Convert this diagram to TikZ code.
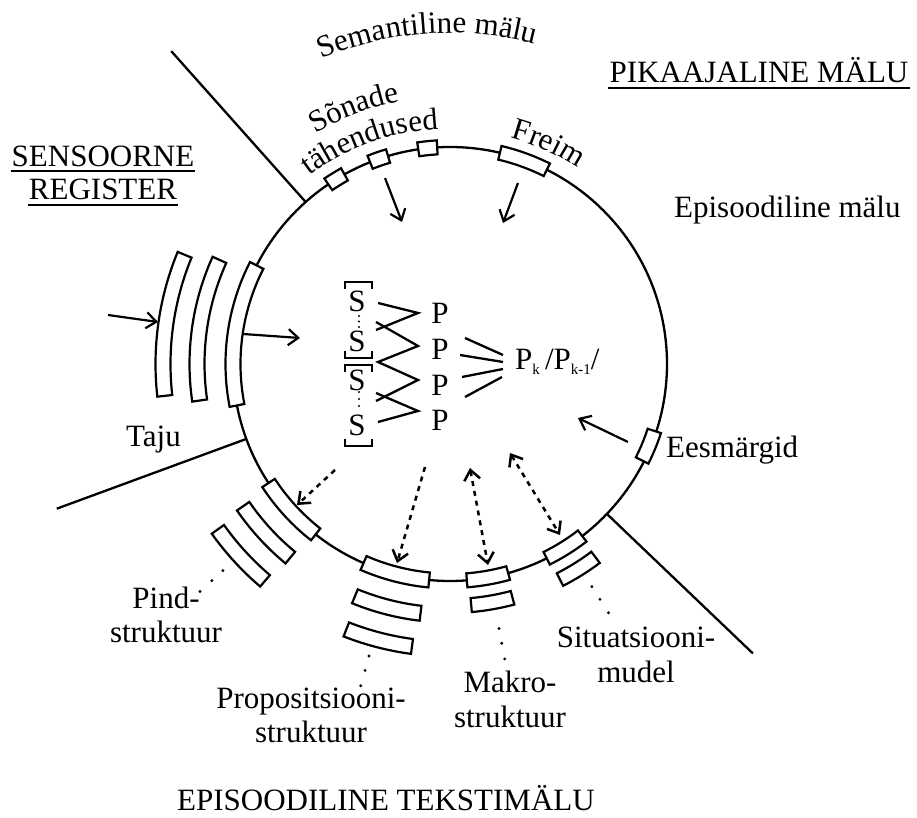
\documentclass[tikz,border=0pt]{standalone}
\usepackage{fontspec}
\setmainfont{Liberation Serif}
\usetikzlibrary{arrows.meta,decorations.text,calc}

\newcommand\lblfont{\fontsize{31}{34}\selectfont}
\newcommand\sbs[1]{\raisebox{-5pt}{\fontsize{15}{15}\selectfont #1}}
% box bent along the ring: angle, radius, arc length, width
\newcommand\segbox[4]{%
  \pgfmathsetmacro\hA{#3/(2*#2)*180/pi}%
  \pgfmathsetmacro\rI{#2-#4/2}%
  \pgfmathsetmacro\rO{#2+#4/2}%
  \draw[seg] (#1-\hA:\rI) arc[start angle=#1-\hA, end angle=#1+\hA, radius=\rI]
    -- (#1+\hA:\rO) arc[start angle=#1+\hA, end angle=#1-\hA, radius=\rO] -- cycle;}

\begin{document}
\begin{tikzpicture}[x=1pt, y=1pt, font=\lblfont, line width=2.3pt,
      seg/.style={draw, fill=white, line width=2.2pt},
      arr/.style={-{Straight Barb[length=10pt,width=16pt]}, line width=2.2pt},
      darr/.style={arr, line width=2.5pt, dash pattern=on 5pt off 5pt},
      ddarr/.style={darr, {Straight Barb[length=10pt,width=16pt]}-{Straight Barb[length=10pt,width=16pt]}},
      lbl/.style={inner sep=0pt, anchor=base},
      uline/.style={line width=1.8pt},
      curved/.style={decorate, decoration={text along path, text align=center, text={|\lblfont|#1}}},
    ]
    \useasboundingbox (-450,-454) rectangle (467,364);

    % --- ring and the three borders ---
    \draw (0,0) circle[radius=217];
    \foreach \a in {131.7,200.2,-43.7}
      \draw (\a:217) -- (\a:419);

    % --- boxes on the ring ---
    \foreach \a in {121.6,109.1,95.9} {\segbox{\a}{217}{19}{14}}
    \segbox{70.1}{217}{50}{14}
    \segbox{-22.4}{215}{32}{14}
    \foreach \r in {217,253,287} {\segbox{172}{\r}{144}{15}}
    \foreach \r in {217,251,285} {\segbox{222.5}{\r}{70}{15}}
    \foreach \r in {217,251,285} {\segbox{255.5}{\r}{68}{15}}
    \foreach \r in {217,242} {\segbox{280}{\r}{42}{14}}
    \foreach \r in {217,242} {\segbox{302}{\r}{42}{14}}

    % --- dots leading out to the labels ---
    \foreach \r in {307,322,338} \fill (222.3:\r) circle[radius=1.6];
    \foreach \r in {303,318,334} \fill (254.5:\r) circle[radius=1.6];
    \foreach \r in {269,284,300} \fill (280.5:\r) circle[radius=1.6];
    \foreach \r in {264,279,295} \fill (302.5:\r) circle[radius=1.6];

    % --- curved labels ---
    \path[curved={Semantiline mälu}] (139:331) arc[start angle=139, end angle=49, radius=331];
    \path[curved={Sõnade}] (150:267) arc[start angle=150, end angle=71, radius=267];
    \path[curved={tähendused}] (150:235) arc[start angle=150, end angle=69.6, radius=235];
    \path[curved={Freim}] (105:234) arc[start angle=105, end angle=26.8, radius=234];

    % --- labels ---
    \node[lbl] (sens) at (-347,197) {SENSOORNE};
    \node[lbl] (reg) at (-347,164) {REGISTER};
    \node[lbl] (pika) at (309,281) {PIKAAJALINE MÄLU};
    \draw[uline] ($(sens.base west)+(0,-4)$) -- ($(sens.base east)+(0,-4)$);
    \draw[uline] ($(reg.base west)+(0,-5)$) -- ($(reg.base east)+(0,-5)$);
    \draw[uline] ($(pika.base west)+(0,-5)$) -- ($(pika.base east)+(0,-5)$);
    \node[lbl, anchor=base west] (epis) at (223,146) {Episoodiline mälu};
    \node[lbl, anchor=base west] (taju) at (-325,-83) {Taju};
    \node[lbl, anchor=base west] (eesm) at (215,-94) {Eesmärgid};
    \node[lbl] (pind-a) at (-284,-244) {Pind-};
    \node[lbl] (pind-b) at (-284,-278) {struktuur};
    \node[lbl] (prop-a) at (-139,-344) {Propositsiooni-};
    \node[lbl] (prop-b) at (-139,-378) {struktuur};
    \node[lbl] (makro-a) at (60,-328) {Makro-};
    \node[lbl] (makro-b) at (60,-363) {struktuur};
    \node[lbl] (situ-a) at (186,-283) {Situatsiooni-};
    \node[lbl] (situ-b) at (186,-318) {mudel};
    \node[lbl] (tekst) at (-64,-446) {EPISOODILINE TEKSTIMÄLU};

    % --- centre: S groups, P's and the result ---
    \foreach \n/\y in {1/63,2/23,3/-16,4/-61}
      \node[inner sep=0pt] (s\n) at (-93,\y) {S};
    \foreach \y in {48,42.5,37,-28,-35,-42}
      \fill (-91,\y) circle[radius=1.2];
    \foreach \y in {82,-1} {\draw[line width=2pt] (-105,\y-7) -- (-105,\y) -- (-78,\y) -- (-78,\y-7);}
    \foreach \y in {6,-82} {\draw[line width=2pt] (-105,\y+7) -- (-105,\y) -- (-78,\y) -- (-78,\y+7);}
    \foreach \n/\y in {1/51,2/15,3/-21,4/-56}
      \node[inner sep=0pt] (p\n) at (-10,\y) {P};
    \node[lbl, anchor=base west] (pk) at (64,-6) {P\sbs{k}\,/P\sbs{k-1}/};

    \draw (-72,61) -- (-32,51) -- (-74,34);
    \draw (-74,42) -- (-32,18) -- (-72,2) -- (-32,-16) -- (-74,-37);
    \draw (-74,-29) -- (-32,-47) -- (-72,-58);
    \draw (15,26) -- (53,9);
    \draw (10,9) -- (53,2);
    \draw (12,-13) -- (53,-5);
    \draw (15,-33) -- (52,-13);

    % --- arrows ---
    \coordinate (in-a) at (-342,49);   \coordinate (in-b) at (-292,42);
    \coordinate (taju-a) at (-207,30); \coordinate (taju-b) at (-150,26);
    \coordinate (son-a) at (-65,186);  \coordinate (son-b) at (-48,142);
    \coordinate (fr-a) at (68,181);    \coordinate (fr-b) at (53,141);
    \coordinate (ee-a) at (178,-78);   \coordinate (ee-b) at (128,-54);
    \coordinate (pi-a) at (-115,-106); \coordinate (pi-b) at (-153,-141);
    \coordinate (pr-a) at (-25,-103);  \coordinate (pr-b) at (-53,-199);
    \coordinate (ma-a) at (20,-104);   \coordinate (ma-b) at (38,-201);
    \coordinate (si-a) at (60,-89);    \coordinate (si-b) at (110,-171);
    \draw[arr] (in-a) -- (in-b);
    \draw[arr] (taju-a) -- (taju-b);
    \draw[arr] (son-a) -- (son-b);
    \draw[arr] (fr-a) -- (fr-b);
    \draw[arr] (ee-a) -- (ee-b);
    \draw[darr] (pi-a) -- (pi-b);
    \draw[darr] (pr-a) -- (pr-b);
    \draw[ddarr] (ma-a) -- (ma-b);
    \draw[ddarr] (si-a) -- (si-b);
  \end{tikzpicture}
\end{document}
